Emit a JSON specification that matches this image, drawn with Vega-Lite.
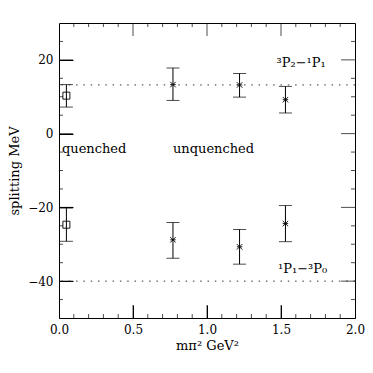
{
  "$schema": "https://vega.github.io/schema/vega-lite/v6.json",
  "width": 296,
  "height": 295,
  "autosize": "none",
  "padding": {"left": 59, "top": 23, "right": 18, "bottom": 55},
  "background": "white",
  "config": {
    "font": "DejaVu Serif",
    "view": {"stroke": "black", "strokeWidth": 1},
    "axis": {
      "grid": false,
      "domain": false,
      "labelColor": "black",
      "labelFont": "DejaVu Serif",
      "labelFontSize": 12,
      "titleFont": "DejaVu Serif",
      "titleFontSize": 13,
      "titleFontWeight": "normal",
      "titleColor": "black",
      "labelFlush": false
    }
  },
  "datasets": {
    "pts": [
      {"series": "quenched", "x": 0.05, "y": 10.3, "lo": 7.2, "hi": 13.3},
      {"series": "unquenched", "x": 0.77, "y": 13.3, "lo": 9.0, "hi": 17.8},
      {"series": "unquenched", "x": 1.22, "y": 13.2, "lo": 9.9, "hi": 16.3},
      {"series": "unquenched", "x": 1.53, "y": 9.2, "lo": 5.6, "hi": 12.8},
      {"series": "quenched", "x": 0.05, "y": -24.7, "lo": -29.2, "hi": -20.2},
      {"series": "unquenched", "x": 0.77, "y": -28.8, "lo": -33.8, "hi": -24.1},
      {"series": "unquenched", "x": 1.22, "y": -30.7, "lo": -35.4, "hi": -26.0},
      {"series": "unquenched", "x": 1.53, "y": -24.4, "lo": -29.3, "hi": -19.5}
    ],
    "lines": [{"y": 13.2}, {"y": -40}],
    "labels": [
      {"label": "³P₂−¹P₁", "x": 1.47, "y": 18.0},
      {"label": "¹P₁−³P₀", "x": 1.48, "y": -37.7},
      {"label": "quenched", "x": 0.02, "y": -5.2},
      {"label": "unquenched", "x": 0.77, "y": -5.2}
    ],
    "xt": [
      {"v": 0.1, "kind": "minor"}, {"v": 0.2, "kind": "minor"}, {"v": 0.3, "kind": "minor"}, {"v": 0.4, "kind": "minor"},
      {"v": 0.5, "kind": "major"},
      {"v": 0.6, "kind": "minor"}, {"v": 0.7, "kind": "minor"}, {"v": 0.8, "kind": "minor"}, {"v": 0.9, "kind": "minor"},
      {"v": 1.0, "kind": "major"},
      {"v": 1.1, "kind": "minor"}, {"v": 1.2, "kind": "minor"}, {"v": 1.3, "kind": "minor"}, {"v": 1.4, "kind": "minor"},
      {"v": 1.5, "kind": "major"},
      {"v": 1.6, "kind": "minor"}, {"v": 1.7, "kind": "minor"}, {"v": 1.8, "kind": "minor"}, {"v": 1.9, "kind": "minor"}
    ],
    "yt": [
      {"v": -45, "kind": "minor"}, {"v": -40, "kind": "major"}, {"v": -35, "kind": "minor"}, {"v": -30, "kind": "minor"},
      {"v": -25, "kind": "minor"}, {"v": -20, "kind": "major"}, {"v": -15, "kind": "minor"}, {"v": -10, "kind": "minor"},
      {"v": -5, "kind": "minor"}, {"v": 0, "kind": "major"}, {"v": 5, "kind": "minor"}, {"v": 10, "kind": "minor"},
      {"v": 15, "kind": "minor"}, {"v": 20, "kind": "major"}, {"v": 25, "kind": "minor"}
    ]
  },
  "layer": [
    {
      "data": {"name": "pts"},
      "mark": {"type": "rule", "color": "black", "strokeWidth": 1},
      "encoding": {
        "x": {
          "field": "x", "type": "quantitative",
          "scale": {"domain": [0, 2], "nice": false, "zero": false},
          "axis": {
            "orient": "bottom",
            "title": "mπ² GeV²",
            "values": [0, 0.5, 1.0, 1.5, 2.0],
            "format": ".1f",
            "tickColor": "black",
            "offset": -13,
            "tickSize": 13,
            "labelPadding": 6,
            "titlePadding": 4
          }
        },
        "y": {
          "field": "lo", "type": "quantitative",
          "scale": {"domain": [-50, 30], "nice": false, "zero": false},
          "axis": {
            "orient": "left",
            "title": "splitting MeV",
            "values": [-40, -20, 0, 20],
            "format": "d",
            "tickColor": "black",
            "tickSize": -14,
            "labelPadding": 20,
            "titlePadding": 6
          }
        },
        "y2": {"field": "hi"}
      }
    },
    {
      "data": {"name": "pts"},
      "mark": {"type": "tick", "orient": "horizontal", "color": "black", "thickness": 1, "size": 13},
      "encoding": {
        "x": {"field": "x", "type": "quantitative", "axis": null},
        "y": {"field": "lo", "type": "quantitative", "axis": null}
      }
    },
    {
      "data": {"name": "pts"},
      "mark": {"type": "tick", "orient": "horizontal", "color": "black", "thickness": 1, "size": 13},
      "encoding": {
        "x": {"field": "x", "type": "quantitative", "axis": null},
        "y": {"field": "hi", "type": "quantitative", "axis": null}
      }
    },
    {
      "data": {"name": "pts"},
      "mark": {"type": "point", "filled": false, "strokeWidth": 0.9, "opacity": 1},
      "encoding": {
        "x": {"field": "x", "type": "quantitative", "axis": null},
        "y": {"field": "y", "type": "quantitative", "axis": null},
        "shape": {
          "field": "series", "type": "nominal", "legend": null,
          "scale": {"domain": ["quenched", "unquenched"], "range": ["square", "M-1,-1L1,1M-1,1L1,-1M-1,0L1,0"]}
        },
        "size": {
          "field": "series", "type": "nominal", "legend": null,
          "scale": {"domain": ["quenched", "unquenched"], "range": [49, 30]}
        },
        "color": {"value": "black"}
      }
    },
    {
      "data": {"name": "lines"},
      "mark": {"type": "rule", "color": "#333", "strokeWidth": 1, "strokeDash": [1.5, 5.8]},
      "encoding": {
        "y": {"field": "y", "type": "quantitative", "axis": null}
      }
    },
    {
      "data": {"name": "labels"},
      "mark": {"type": "text", "align": "left", "baseline": "alphabetic", "font": "DejaVu Serif", "fontSize": 13, "color": "black"},
      "encoding": {
        "x": {"field": "x", "type": "quantitative", "axis": null},
        "y": {"field": "y", "type": "quantitative", "axis": null},
        "text": {"field": "label", "type": "nominal"}
      }
    },
    {
      "data": {"name": "xt"},
      "transform": [{"filter": "datum.kind === 'major'"}],
      "mark": {"type": "tick", "orient": "vertical", "color": "black", "thickness": 1, "size": 26, "clip": true},
      "encoding": {
        "x": {"field": "v", "type": "quantitative", "axis": null},
        "y": {"datum": -50, "type": "quantitative", "axis": null}
      }
    },
    {
      "data": {"name": "xt"},
      "transform": [{"filter": "datum.kind === 'major'"}],
      "mark": {"type": "tick", "orient": "vertical", "color": "black", "thickness": 1, "size": 26, "clip": true},
      "encoding": {
        "x": {"field": "v", "type": "quantitative", "axis": null},
        "y": {"datum": 30, "type": "quantitative", "axis": null}
      }
    },
    {
      "data": {"name": "xt"},
      "transform": [{"filter": "datum.kind === 'minor'"}],
      "mark": {"type": "tick", "orient": "vertical", "color": "black", "thickness": 1, "size": 8, "clip": true},
      "encoding": {
        "x": {"field": "v", "type": "quantitative", "axis": null},
        "y": {"datum": -50, "type": "quantitative", "axis": null}
      }
    },
    {
      "data": {"name": "xt"},
      "transform": [{"filter": "datum.kind === 'minor'"}],
      "mark": {"type": "tick", "orient": "vertical", "color": "black", "thickness": 1, "size": 8, "clip": true},
      "encoding": {
        "x": {"field": "v", "type": "quantitative", "axis": null},
        "y": {"datum": 30, "type": "quantitative", "axis": null}
      }
    },
    {
      "data": {"name": "yt"},
      "transform": [{"filter": "datum.kind === 'major'"}],
      "mark": {"type": "tick", "orient": "horizontal", "color": "black", "thickness": 1, "size": 28, "clip": true},
      "encoding": {
        "y": {"field": "v", "type": "quantitative", "axis": null},
        "x": {"datum": 0, "type": "quantitative", "axis": null}
      }
    },
    {
      "data": {"name": "yt"},
      "transform": [{"filter": "datum.kind === 'major'"}],
      "mark": {"type": "tick", "orient": "horizontal", "color": "black", "thickness": 1, "size": 28, "clip": true},
      "encoding": {
        "y": {"field": "v", "type": "quantitative", "axis": null},
        "x": {"datum": 2, "type": "quantitative", "axis": null}
      }
    },
    {
      "data": {"name": "yt"},
      "transform": [{"filter": "datum.kind === 'minor'"}],
      "mark": {"type": "tick", "orient": "horizontal", "color": "black", "thickness": 1, "size": 8, "clip": true},
      "encoding": {
        "y": {"field": "v", "type": "quantitative", "axis": null},
        "x": {"datum": 0, "type": "quantitative", "axis": null}
      }
    },
    {
      "data": {"name": "yt"},
      "transform": [{"filter": "datum.kind === 'minor'"}],
      "mark": {"type": "tick", "orient": "horizontal", "color": "black", "thickness": 1, "size": 8, "clip": true},
      "encoding": {
        "y": {"field": "v", "type": "quantitative", "axis": null},
        "x": {"datum": 2, "type": "quantitative", "axis": null}
      }
    }
  ],
  "resolve": {"axis": {"x": "independent", "y": "independent"}}
}
